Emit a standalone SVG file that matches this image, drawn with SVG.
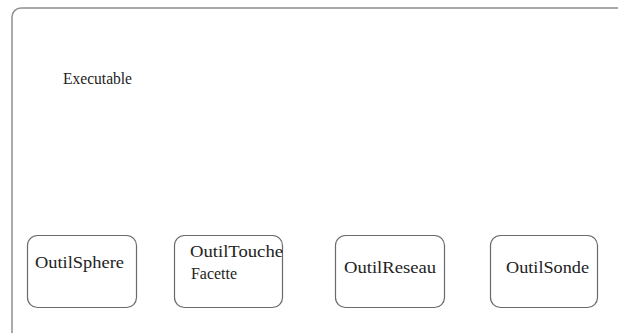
<svg xmlns="http://www.w3.org/2000/svg" width="618" height="333" viewBox="0 0 618 333">
<style>
.frame{fill:none;stroke:#8f8f8f;stroke-width:1.5}
.box{fill:#fff;stroke:#6a6a6a;stroke-width:1.2}
.lbl{font-family:"Liberation Serif","Times New Roman",serif;font-size:17px;fill:#222}
</style>
<rect width="618" height="333" fill="#fff"/>
<g id="executable">
<rect class="frame" x="12" y="8" width="700" height="332" rx="9"/>
<text class="lbl" x="63" y="84" textLength="69" lengthAdjust="spacingAndGlyphs">Executable</text>
</g>
<g id="connectors"></g>
<g id="outilSphere">
<rect class="box" x="27.5" y="235.5" width="109" height="72" rx="10"/>
<text class="lbl" x="35" y="268" textLength="89" lengthAdjust="spacingAndGlyphs">OutilSphere</text>
</g>
<g id="outilToucheFacette">
<rect class="box" x="174.5" y="235.5" width="108" height="72" rx="10"/>
<text class="lbl" x="190" y="257" textLength="93" lengthAdjust="spacingAndGlyphs">OutilTouche</text>
<text class="lbl" x="191" y="279" textLength="46" lengthAdjust="spacingAndGlyphs">Facette</text>
</g>
<g id="outilReseau">
<rect class="box" x="335.5" y="235.5" width="109" height="72" rx="10"/>
<text class="lbl" x="344" y="273" textLength="92" lengthAdjust="spacingAndGlyphs">OutilReseau</text>
</g>
<g id="outilSonde">
<rect class="box" x="490.5" y="235.5" width="107" height="72" rx="10"/>
<text class="lbl" x="506" y="273" textLength="83" lengthAdjust="spacingAndGlyphs">OutilSonde</text>
</g>
</svg>
